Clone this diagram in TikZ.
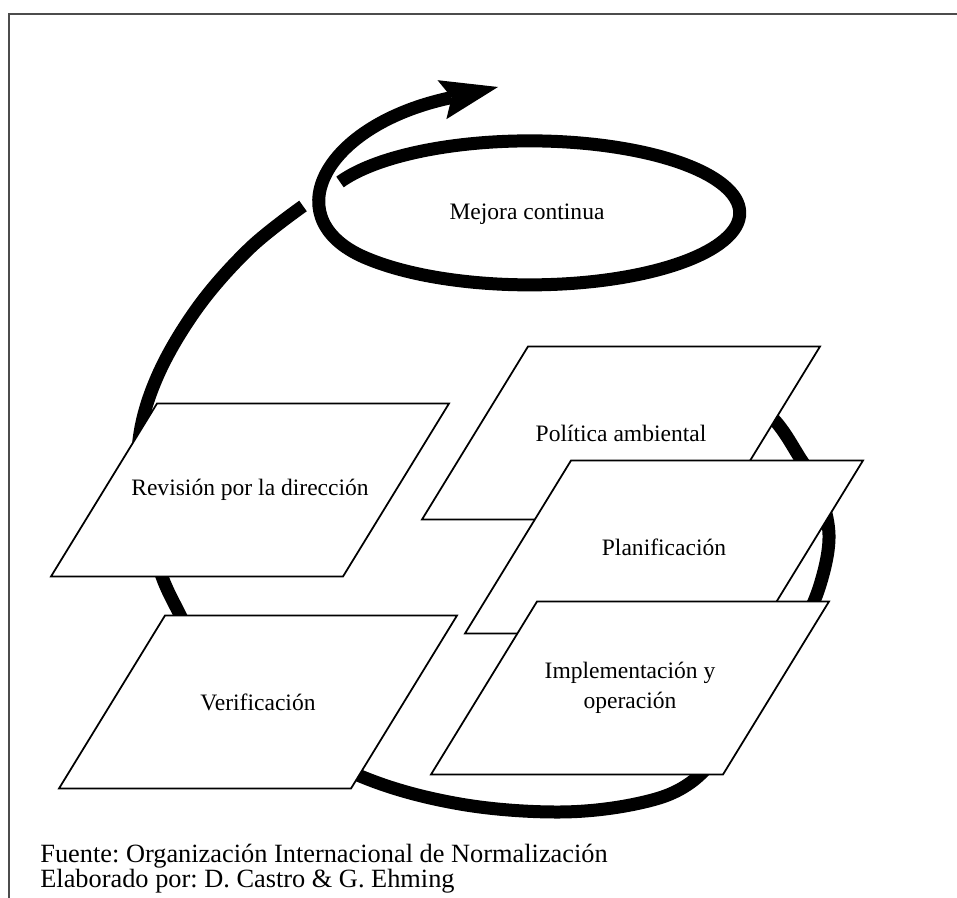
\documentclass[tikz,border=0pt]{standalone}
\usepackage{fontspec}
\setmainfont{Liberation Serif}
\usetikzlibrary{arrows.meta}
\frenchspacing

\begin{document}
\begin{tikzpicture}[x=0.02cm, y=-0.02cm,
    stagebox/.style={draw, fill=white, line width=1pt},
    stage/.style={inner sep=0pt, align=center, font=\fontsize{13.4}{17}\selectfont},
    ring/.style={line width=0.26cm},
    note/.style={anchor=base west, inner sep=0pt, font=\fontsize{15}{18}\selectfont}]
    \useasboundingbox (0,0) rectangle (957,898);

    % Frame
    \draw[black!70, line width=0.8pt] (957,14) -- (9,14) -- (9,898);

    % Cycle
    \draw[ring] plot[smooth, tension=0.6] coordinates {(303,206) (250,248) (198,307) (158,375)
      (139,440) (142,505) (158,565) (175,605) (210,665) (275,730) (365,778) (460,804)
      (560,812) (640,803) (690,783) (730,740) (765,690) (800,630) (820,585) (829,535)
      (818,488) (800,458) (777,423) (745,392)};

    % Spiral
    \draw[ring, -{Stealth[length=1.15cm, width=0.8cm, inset=0.2cm, line width=0pt]}]
      (340,182) arc[start angle=205.4, end angle=500, x radius=210, y radius=72]
      .. controls (275,222) and (320,128) .. (445,99) -- (498,87);
    \node[stage] (mejora) at (527,214) {Mejora continua};

    % Stages
    \foreach \name/\cx/\cy/\txt in {revision/250/490/{Revisión por la dirección},
        verif/258/702/{Verificación}, politica/621/433/{Política ambiental},
        plan/664/547/{Planificación}, impl/630/688/{Implementación y\\operación}} {
      \draw[stagebox] (\cx-93,\cy-86.5) -- ++(292,0) -- ++(-106,173) -- ++(-292,0) -- cycle;
      \node[stage] (\name) at (\cx,\cy) {\txt};
    }

    % Source
    \node[note] (fuente) at (40,862) {Fuente: Organización Internacional de Normalización};
    \node[note] (autor) at (40,887) {Elaborado por: D. Castro \& G. Ehming};
\end{tikzpicture}
\end{document}
